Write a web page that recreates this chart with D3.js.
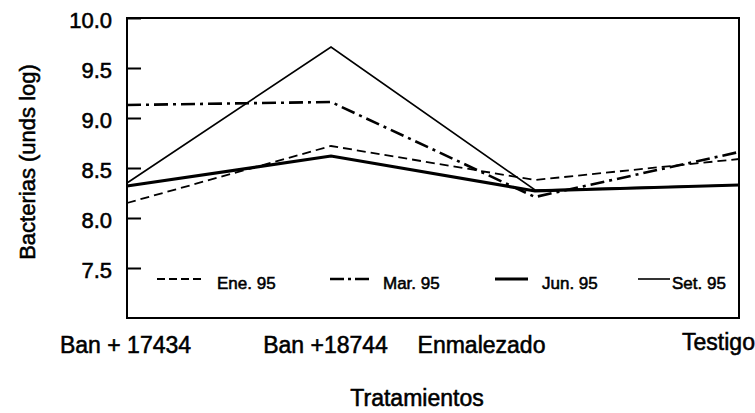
<!DOCTYPE html>
<html>
<head>
<meta charset="utf-8">
<script src="https://cdn.jsdelivr.net/npm/d3@7"></script>
<style>
  html, body { margin: 0; padding: 0; background: #fff; }
  svg { display: block; }
  text { font-family: "Liberation Sans", Arial, Helvetica, sans-serif; fill: #000; stroke: #000; stroke-width: 0.55px; }
</style>
</head>
<body>
<svg id="chart" width="755" height="413"></svg>
<script>
// ---- data ----
const categories = ["Ban + 17434", "Ban +18744", "Enmalezado", "Testigo"];
const seriesNames = ["Ene. 95", "Mar. 95", "Jun. 95", "Set. 95"];
const ene95 = [8.15, 8.72, 8.38, 8.59];
const mar95 = [9.13, 9.16, 8.21, 8.66];
const jun95 = [8.32, 8.62, 8.27, 8.33];
const set95 = [8.35, 9.71, 8.28, 8.33];
const yTicks = [7.5, 8.0, 8.5, 9.0, 9.5, 10.0];
const yDomain = [7.0, 10.0];
const yTitle = "Bacterias (unds log)";
const xTitle = "Tratamientos";

// ---- layout ----
const svg = d3.select("#chart");
const L = 127, R = 739, T = 18, B = 318;

const x = d3.scalePoint().domain(categories).range([L, R]).padding(0);
const y = d3.scaleLinear().domain(yDomain).range([B, T]);

// styles per series
const styles = [
  { width: 1.8, dash: "9,5" },
  { width: 2.6, dash: "14,5,3,5" },
  { width: 3.2, dash: null },
  { width: 1.6, dash: null }
];
const seriesValues = [ene95, mar95, jun95, set95];

// frame
svg.append("rect")
  .attr("x", L).attr("y", T).attr("width", R - L).attr("height", B - T)
  .attr("fill", "none").attr("stroke", "#000").attr("stroke-width", 2);

// y axis (inward ticks)
const yAxis = d3.axisLeft(y).tickValues(yTicks).tickFormat(d3.format(".1f"))
  .tickSizeInner(-14).tickSizeOuter(0).tickPadding(15);
const gy = svg.append("g").attr("transform", `translate(${L},0)`).call(yAxis);
gy.select(".domain").remove();
gy.selectAll(".tick line").attr("stroke", "#000").attr("stroke-width", 2);
gy.selectAll(".tick text").attr("font-size", 22).attr("dy", "0.42em")
  .style("font-family", "'Liberation Sans', Arial, sans-serif").attr("fill", "#000");

// x axis labels (no ticks), placed under each category
const labelShift = [-2, -6, -54, -21];
const labelDy = [0, 0, 0, -3];
const xAxis = d3.axisBottom(x).tickSize(0).tickPadding(0);
const gx = svg.append("g").attr("transform", `translate(0,${B})`).call(xAxis);
gx.select(".domain").remove();
gx.selectAll(".tick text")
  .attr("font-size", 23)
  .attr("dy", null)
  .attr("y", (d, i) => 35 + labelDy[i])
  .attr("x", (d, i) => labelShift[i])
  .attr("text-anchor", "middle")
  .style("font-family", "'Liberation Sans', Arial, sans-serif")
  .attr("fill", "#000");

// lines
const line = d3.line().x((d, i) => x(categories[i])).y(d => y(d));
seriesValues.forEach((vals, i) => {
  svg.append("path")
    .datum(vals)
    .attr("d", line)
    .attr("fill", "none")
    .attr("stroke", "#000")
    .attr("stroke-width", styles[i].width)
    .attr("stroke-dasharray", styles[i].dash)
    .attr("stroke-linejoin", "miter");
});

// legend
const legendItems = [
  { x1: 157, x2: 203, tx: 217 },
  { x1: 330, x2: 371, tx: 383 },
  { x1: 495, x2: 528, tx: 542 },
  { x1: 638, x2: 670, tx: 672 }
];
const legDash = ["8,4", "14,4,3,4", null, null];
const lg = svg.append("g");
legendItems.forEach((it, i) => {
  lg.append("line")
    .attr("x1", it.x1).attr("x2", it.x2).attr("y1", 279).attr("y2", 279)
    .attr("stroke", "#000").attr("stroke-width", styles[i].width)
    .attr("stroke-dasharray", legDash[i]);
  lg.append("text")
    .attr("x", it.tx).attr("y", 289)
    .attr("font-size", 17)
    .text(seriesNames[i]);
});

// axis titles
svg.append("text")
  .attr("transform", "translate(35,162) rotate(-90)")
  .attr("text-anchor", "middle")
  .attr("font-size", 22)
  .text(yTitle);

svg.append("text")
  .attr("x", 417).attr("y", 406)
  .attr("text-anchor", "middle")
  .attr("font-size", 23)
  .text(xTitle);
</script>
</body>
</html>
